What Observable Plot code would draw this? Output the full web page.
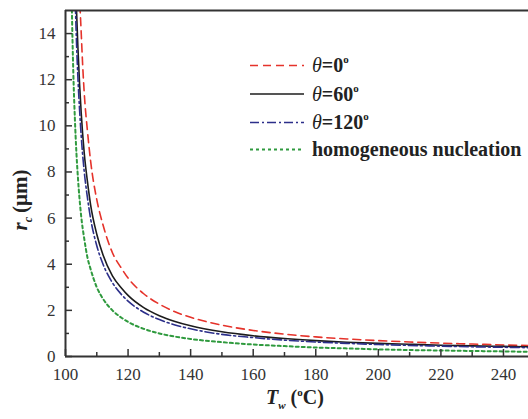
<!DOCTYPE html>
<html>
<head>
<meta charset="utf-8">
<script src="https://cdn.jsdelivr.net/npm/d3@7"></script>
<script src="https://cdn.jsdelivr.net/npm/@observablehq/plot@0.6"></script>
<style>
  html, body { margin: 0; padding: 0; background: #fff; overflow: hidden; }
  #chart { position: relative; width: 528px; height: 419px; }
  #chart svg { display: block; }
  #chart svg, #chart svg text, #chart svg tspan { font-family: "Liberation Serif", "DejaVu Serif", serif !important; }
  #overlay { position: absolute; left: 0; top: 0; pointer-events: none; }
</style>
</head>
<body>
<div id="chart"></div>
<script>
// Axis ranges and tick positions
const xDomain = [100, 248];
const yDomain = [0, 15];
const xMajor = [100, 120, 140, 160, 180, 200, 220, 240];
const xMinor = [110, 130, 150, 170, 190, 210, 230];
const yMajor = [0, 2, 4, 6, 8, 10, 12, 14];
const yMinor = [1, 3, 5, 7, 9, 11, 13];

// Critical radius r_c (µm) against wall temperature T_w (°C)
const tTheta0 = [104, 104.5, 105, 105.5, 106, 107, 108, 110, 112, 115, 118, 120, 125, 130, 135, 140, 150, 160, 170, 180, 190, 200, 210, 220, 230, 240, 250];
const rTheta0 = [17.5, 15.6, 14.1, 12.6, 11.4, 9.8, 8.5, 6.8, 5.7, 4.5, 3.8, 3.4, 2.72, 2.27, 1.94, 1.7, 1.36, 1.13, 0.97, 0.85, 0.76, 0.69, 0.63, 0.58, 0.54, 0.5, 0.47];

const tTheta60 = [103, 103.5, 104, 104.5, 105, 106, 107, 108, 110, 112, 115, 118, 120, 125, 130, 135, 140, 150, 160, 170, 180, 190, 200, 210, 220, 230, 240, 250];
const rTheta60 = [17.7, 15.1, 13.3, 11.8, 10.6, 8.8, 7.6, 6.6, 5.3, 4.4, 3.5, 2.95, 2.65, 2.12, 1.77, 1.52, 1.33, 1.07, 0.9, 0.78, 0.69, 0.62, 0.57, 0.53, 0.49, 0.46, 0.44, 0.42];

const tTheta120 = [103, 103.5, 104, 104.5, 105, 106, 107, 108, 110, 112, 115, 118, 120, 125, 130, 135, 140, 150, 160, 170, 180, 190, 200, 210, 220, 230, 240, 250];
const rTheta120 = [16.0, 13.7, 12.0, 10.7, 9.6, 8.0, 6.9, 6.0, 4.8, 4.0, 3.2, 2.67, 2.4, 1.92, 1.6, 1.37, 1.2, 0.96, 0.82, 0.71, 0.63, 0.57, 0.52, 0.48, 0.45, 0.42, 0.4, 0.38];

const tHomo = [101.5, 102, 102.5, 103, 103.5, 104, 105, 106, 107, 108, 110, 112, 115, 118, 120, 125, 130, 135, 140, 150, 160, 170, 180, 190, 200, 210, 220, 230, 240, 250];
const rHomo = [20.5, 15.4, 12.3, 10.3, 8.8, 7.7, 6.1, 5.1, 4.3, 3.8, 3.0, 2.5, 2.0, 1.67, 1.5, 1.2, 1.0, 0.86, 0.76, 0.62, 0.52, 0.45, 0.39, 0.35, 0.31, 0.28, 0.26, 0.24, 0.22, 0.2];

const seriesNames = ["θ=0", "θ=60", "θ=120", "homogeneous nucleation"];

const series = [
  {name: seriesNames[0], t: tTheta0, r: rTheta0, color: "#e5332b", dash: "8,5", width: 1.6},
  {name: seriesNames[1], t: tTheta60, r: rTheta60, color: "#1c1c1c", dash: null, width: 1.6},
  {name: seriesNames[2], t: tTheta120, r: rTheta120, color: "#2c2f8a", dash: "9,3,2,3", width: 1.6},
  {name: seriesNames[3], t: tHomo, r: rHomo, color: "#2f9a3e", dash: "3,3", width: 2}
];

const W = 528, H = 419;
const mL = 65, mT = 10, mB = 63, mR = 0;
const kx = (W - mL - mR) / (xDomain[1] - xDomain[0]);
const ky = (H - mT - mB) / (yDomain[1] - yDomain[0]);
const axisColor = "#333";
const fontFamily = "Liberation Serif, DejaVu Serif, serif";

const plot = Plot.plot({
  width: W, height: H,
  marginLeft: mL, marginTop: mT, marginBottom: mB, marginRight: mR,
  x: {domain: xDomain, axis: null},
  y: {domain: yDomain, axis: null},
  style: {fontFamily, background: "transparent", overflow: "visible"},
  marks: [
    ...series.map(s => Plot.line(s.t.map((t, i) => ({t, r: s.r[i]})), {
      x: "t", y: "r", stroke: s.color, strokeWidth: s.width,
      strokeDasharray: s.dash, curve: "monotone-x", clip: true
    })),
    // frame: bottom, left and top spines
    Plot.ruleY([yDomain[0]], {stroke: axisColor, strokeWidth: 2}),
    Plot.ruleY([yDomain[1]], {stroke: axisColor, strokeWidth: 2.2}),
    Plot.ruleX([xDomain[0]], {stroke: axisColor, strokeWidth: 2}),
    // inward ticks
    Plot.ruleX(xMajor, {x: d => d, y1: yDomain[0], y2: yDomain[0] + 7 / ky, stroke: axisColor, strokeWidth: 1.5}),
    Plot.ruleX(xMinor, {x: d => d, y1: yDomain[0], y2: yDomain[0] + 4 / ky, stroke: axisColor, strokeWidth: 1.5}),
    Plot.ruleY(yMajor, {y: d => d, x1: xDomain[0], x2: xDomain[0] + 7 / kx, stroke: axisColor, strokeWidth: 1.5}),
    Plot.ruleY(yMinor, {y: d => d, x1: xDomain[0], x2: xDomain[0] + 4 / kx, stroke: axisColor, strokeWidth: 1.5}),
    // tick labels
    Plot.text(xMajor, {x: d => d, y: yDomain[0], dy: 18, text: d => String(d), fontSize: 17, fill: axisColor}),
    Plot.text(yMajor, {x: xDomain[0], y: d => d, dx: -10, textAnchor: "end", text: d => String(d), fontSize: 17, fill: axisColor})
  ]
});

const chart = document.getElementById("chart");
chart.appendChild(plot);

// Overlay: axis titles and legend
const svg = d3.select(chart).append("svg")
  .attr("id", "overlay")
  .attr("width", W).attr("height", H)
  .attr("font-family", fontFamily)
  .attr("font-weight", "bold")
  .attr("fill", "#222");

// x title: T_w (°C)
const xt = svg.append("text").attr("x", 266).attr("y", 404).attr("font-size", 20);
xt.append("tspan").attr("font-style", "italic").text("T");
xt.append("tspan").attr("font-style", "italic").attr("font-size", 11).attr("dy", 5).text("w");
xt.append("tspan").attr("dy", -5).attr("dx", 5).text("(");
xt.append("tspan").attr("font-size", 11).attr("dy", -8).text("o");
xt.append("tspan").attr("dy", 8).text("C)");

// y title: r_c (µm)
const yt = svg.append("text")
  .attr("transform", "translate(27,200) rotate(-90)")
  .attr("text-anchor", "middle")
  .attr("font-size", 21);
yt.append("tspan").attr("font-style", "italic").text("r");
yt.append("tspan").attr("font-style", "italic").attr("font-size", 12).attr("dy", 5).text("c");
yt.append("tspan").attr("dy", -5).attr("dx", 4).text("(μm)");

// legend
const legendRows = [65.5, 94, 122.5, 149.5];
const legendX1 = 250, legendX2 = 304, legendTextX = 312;
series.forEach((s, i) => {
  const y = legendRows[i];
  svg.append("line")
    .attr("x1", legendX1).attr("x2", legendX2)
    .attr("y1", y).attr("y2", y)
    .attr("stroke", s.color).attr("stroke-width", s.width)
    .attr("stroke-dasharray", s.dash);
  const t = svg.append("text").attr("x", legendTextX).attr("y", y + 6.5).attr("font-size", 20);
  if (s.name.startsWith("θ")) {
    t.append("tspan").attr("font-style", "italic").attr("font-weight", "normal").text("θ");
    t.append("tspan").text(s.name.slice(1));
    t.append("tspan").attr("font-size", 11).attr("dy", -9).text("o");
  } else {
    t.append("tspan").text(s.name);
  }
});
</script>
</body>
</html>
